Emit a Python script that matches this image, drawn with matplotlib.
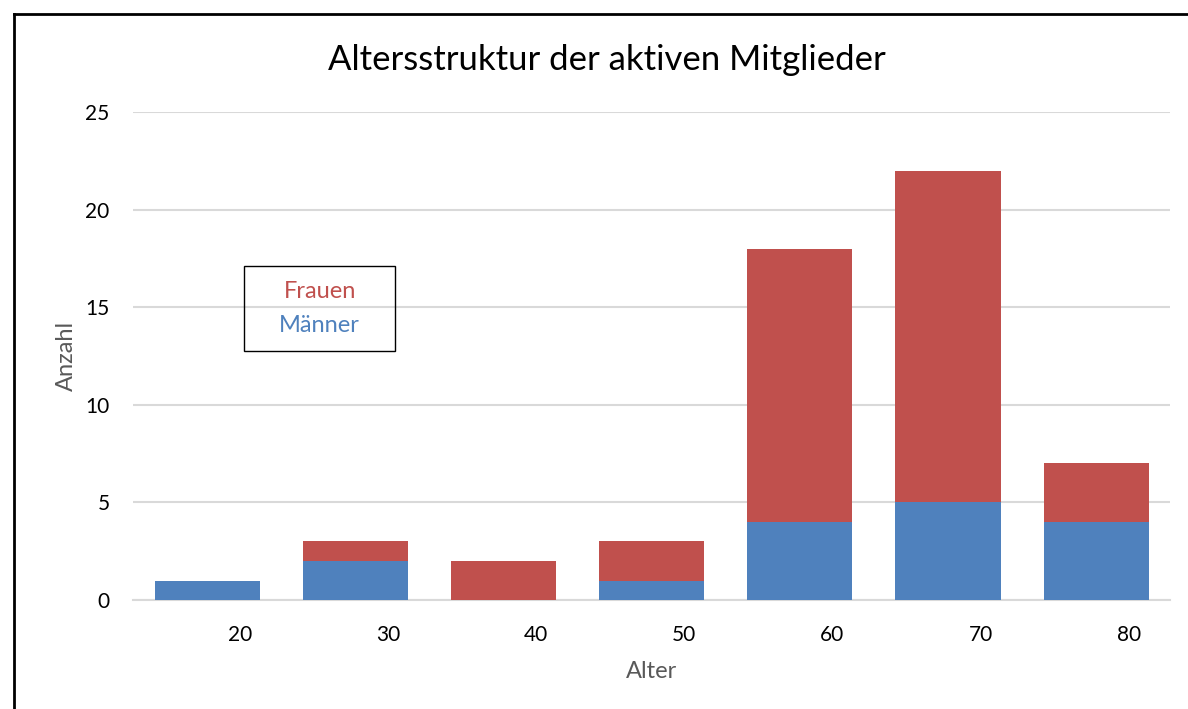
import numpy as np
import matplotlib.pyplot as plt
from matplotlib.lines import Line2D

plt.rcParams['font.family'] = ['Lato', 'DejaVu Sans']

alter = ['20', '30', '40', '50', '60', '70', '80']
maenner = [1, 2, 0, 1, 4, 5, 4]
frauen = [0, 1, 2, 2, 14, 17, 3]

blue = '#4F81BD'
red = '#C0504D'
grid = '#D9D9D9'

fig = plt.figure(figsize=(11.88, 7.09), dpi=100)
ax = fig.add_axes([0.112, 0.1537, 0.873, 0.6883])

x = np.arange(len(alter))
ax.bar(x, maenner, width=0.71, color=blue, zorder=3)
ax.bar(x, frauen, width=0.71, bottom=maenner, color=red, zorder=3)

ax.set_xlim(-0.5, len(alter) - 0.5)
ax.set_ylim(0, 25)
ax.set_yticks([0, 5, 10, 15, 20, 25])
ax.yaxis.grid(True, color=grid, lw=1.5, zorder=0)
ax.set_axisbelow(True)

# labels sit to the right of the bar centres, as in the original
ax.set_xticks(x + 0.22)
ax.set_xticklabels(alter)
ax.tick_params(axis='both', length=0, labelsize=15, colors='black')
ax.tick_params(axis='x', pad=18)
ax.tick_params(axis='y', pad=17)

for s in ['top', 'right', 'left']:
    ax.spines[s].set_visible(False)
ax.spines['bottom'].set_color(grid)
ax.spines['bottom'].set_linewidth(1.5)

ax.set_xlabel('Alter', fontsize=17, color='#595959')
ax.xaxis.set_label_coords(0.5, -0.125)
ax.set_ylabel('Anzahl', fontsize=17, color='#595959')
ax.yaxis.set_label_coords(-0.054, 0.5)

fig.text(0.511, 0.915, 'Altersstruktur der aktiven Mitglieder', ha='center',
         va='center', fontsize=25)

# legend-like box
ax.add_patch(plt.Rectangle((0.107, 0.511), 0.146, 0.174, transform=ax.transAxes,
                           fill=False, edgecolor='black', lw=1, zorder=5))
ax.text(0.18, 0.632, 'Frauen', transform=ax.transAxes, ha='center', va='center',
        color=red, fontsize=17, zorder=6)
ax.text(0.18, 0.563, 'Männer', transform=ax.transAxes, ha='center', va='center',
        color=blue, fontsize=17, zorder=6)

# frame lines at top and left
fig.add_artist(Line2D([0.0115, 0.0115], [0, 0.98], color='black', lw=2))
fig.add_artist(Line2D([0.0115, 1], [0.98, 0.98], color='black', lw=2))

fig.savefig('out.png', dpi=100)
